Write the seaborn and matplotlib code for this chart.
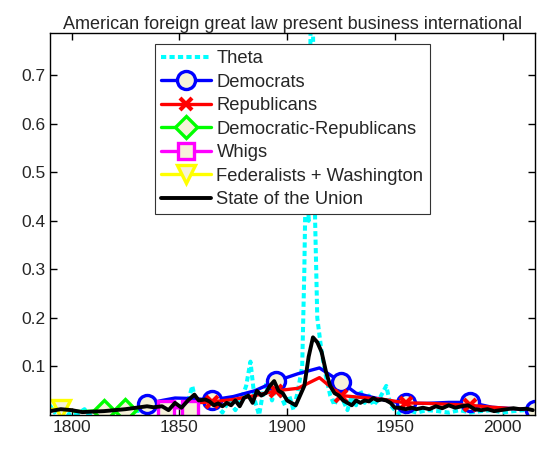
import numpy as np
import pandas as pd
import matplotlib
matplotlib.use("Agg")
import matplotlib.pyplot as plt
import seaborn as sns

# ── Data ──────────────────────────────────────────────────────────────────────

theta_years = [1790, 1792, 1794, 1796, 1798, 1800, 1803, 1806, 1808, 1810, 1813, 1816,
               1820, 1825, 1830, 1835, 1840, 1843, 1846, 1850, 1853, 1856, 1858, 1861,
               1864, 1867, 1870, 1873, 1876, 1879, 1881, 1883, 1885, 1887, 1889, 1891,
               1893, 1895, 1897, 1899, 1901, 1903, 1905, 1907, 1908, 1909, 1910, 1911,
               1912, 1913, 1914, 1916, 1918, 1920, 1922, 1924, 1926, 1928, 1930, 1932,
               1934, 1936, 1938, 1940, 1943, 1946, 1948, 1950, 1953, 1956, 1960, 1965,
               1970, 1975, 1980, 1985, 1990, 1995, 2000, 2005, 2010, 2014]
theta_vals = [0.020, 0.005, 0.015, 0.010, 0.000, 0.005, 0.003, 0.012, 0.000, 0.004, 0.010, 0.000,
              0.005, 0.003, 0.008, 0.010, 0.015, 0.005, 0.020, 0.020, 0.010, 0.060, 0.020, 0.030,
              0.015, 0.020, 0.005, 0.030, 0.010, 0.035, 0.060, 0.110, 0.030, 0.000, 0.050, 0.070,
              0.030, 0.060, 0.040, 0.020, 0.040, 0.010, 0.050, 0.100, 0.300, 0.600, 0.400, 0.850,
              0.800, 0.400, 0.200, 0.130, 0.080, 0.040, 0.020, 0.050, 0.030, 0.010, 0.040, 0.020,
              0.050, 0.025, 0.040, 0.020, 0.035, 0.060, 0.020, 0.010, 0.000, 0.010, 0.005, 0.010,
              0.008, 0.005, 0.010, 0.005, 0.008, 0.010, 0.005, 0.008, 0.010, 0.008]

dem_years = [1835, 1842, 1848, 1856, 1865, 1875, 1885, 1895, 1905, 1915, 1925, 1932,
             1940, 1948, 1955, 1965, 1975, 1985, 1995, 2005, 2015]
dem_vals = [0.023, 0.030, 0.035, 0.034, 0.031, 0.038, 0.050, 0.070, 0.085, 0.097, 0.068, 0.045,
            0.036, 0.028, 0.024, 0.024, 0.026, 0.026, 0.016, 0.013, 0.010]
dem_marks = [0, 4, 7, 10, 14, 17, 20]

rep_years = [1857, 1865, 1875, 1885, 1895, 1905, 1915, 1925, 1935, 1945, 1955, 1965,
             1975, 1985, 1995, 2005, 2010]
rep_vals = [0.025, 0.027, 0.032, 0.040, 0.050, 0.055, 0.077, 0.040, 0.036, 0.032, 0.025, 0.024,
            0.022, 0.020, 0.016, 0.013, 0.012]
rep_marks = [1, 4, 7, 10, 13]

demrep_years = [1801, 1805, 1809, 1815, 1820, 1825, 1829]
demrep_vals = [0.008, 0.007, 0.008, 0.009, 0.010, 0.010, 0.012]
demrep_marks = [3, 5]

whig_years = [1841, 1844, 1849, 1855]
whig_vals = [0.012, 0.012, 0.015, 0.012]
whig_marks = [1, 3]

fed_years = [1790, 1795, 1797, 1800]
fed_vals = [0.012, 0.012, 0.011, 0.010]
fed_marks = [1]

sotu_years = [1790, 1795, 1800, 1805, 1810, 1815, 1820, 1825, 1830, 1835, 1838, 1842,
              1845, 1848, 1851, 1854, 1857, 1859, 1862, 1864, 1866, 1868, 1870, 1872,
              1874, 1876, 1878, 1880, 1882, 1884, 1886, 1888, 1890, 1892, 1894, 1896,
              1898, 1900, 1902, 1904, 1906, 1908, 1910, 1912, 1914, 1916, 1918, 1920,
              1922, 1924, 1926, 1928, 1930, 1932, 1934, 1936, 1938, 1940, 1942, 1944,
              1946, 1948, 1950, 1952, 1955, 1958, 1960, 1963, 1966, 1969, 1972, 1975,
              1978, 1981, 1984, 1987, 1990, 1993, 1996, 1999, 2002, 2005, 2008, 2011, 2014]
sotu_vals = [0.008, 0.012, 0.010, 0.006, 0.007, 0.008, 0.010, 0.012, 0.015, 0.018, 0.016, 0.018,
             0.010, 0.025, 0.015, 0.030, 0.042, 0.030, 0.032, 0.028, 0.020, 0.024, 0.018, 0.025,
             0.020, 0.030, 0.018, 0.035, 0.040, 0.025, 0.050, 0.040, 0.045, 0.060, 0.070, 0.050,
             0.045, 0.030, 0.025, 0.020, 0.040, 0.060, 0.120, 0.160, 0.150, 0.130, 0.090, 0.060,
             0.045, 0.040, 0.030, 0.025, 0.020, 0.030, 0.025, 0.030, 0.028, 0.035, 0.030, 0.032,
             0.030, 0.025, 0.015, 0.015, 0.012, 0.015, 0.012, 0.015, 0.012, 0.018, 0.014, 0.020,
             0.015, 0.018, 0.020, 0.012, 0.010, 0.012, 0.008, 0.010, 0.012, 0.014, 0.012, 0.013, 0.010]

TITLE = "American foreign great law present business international"
X_TICKS = [1800, 1850, 1900, 1950, 2000]
Y_TICKS = [0.1, 0.2, 0.3, 0.4, 0.5, 0.6, 0.7]
FACE = "#f6f2da"

# ── Style ─────────────────────────────────────────────────────────────────────

sns.set_style("ticks", {"xtick.direction": "in", "ytick.direction": "in"})
plt.rcParams["font.family"] = ["Liberation Sans", "DejaVu Sans"]
plt.rcParams["xtick.top"] = True
plt.rcParams["ytick.right"] = True

fig = plt.figure(figsize=(5.4, 4.51), dpi=100)
ax = fig.add_axes([0.0926, 0.0798, 0.8981, 0.847])

sns.lineplot(x=theta_years, y=theta_vals, ax=ax, color="cyan", lw=2.9,
             linestyle=(0, (1.3, 0.8)), label="Theta")

party_kw = dict(lw=2.4, markersize=13, markeredgewidth=2.4, markerfacecolor=FACE)
sns.lineplot(x=dem_years, y=dem_vals, ax=ax, color="blue", marker="o",
             markevery=dem_marks, markeredgecolor="blue", label="Democrats", **party_kw)
sns.lineplot(x=rep_years, y=rep_vals, ax=ax, color="red", marker="x",
             markevery=rep_marks, markeredgecolor="red", label="Republicans",
             **{**party_kw, "markersize": 9, "markeredgewidth": 3})
sns.lineplot(x=demrep_years, y=demrep_vals, ax=ax, color="#00ff00", marker="D",
             markevery=demrep_marks, markeredgecolor="#00ff00",
             label="Democratic-Republicans", **{**party_kw, "markersize": 11})
sns.lineplot(x=whig_years, y=whig_vals, ax=ax, color="magenta", marker="s",
             markevery=whig_marks, markeredgecolor="magenta", label="Whigs",
             **{**party_kw, "markersize": 11})
sns.lineplot(x=fed_years, y=fed_vals, ax=ax, color="yellow", marker="v",
             markevery=fed_marks, markeredgecolor="yellow",
             label="Federalists + Washington", **party_kw)
sns.lineplot(x=sotu_years, y=sotu_vals, ax=ax, color="black", lw=2.8,
             label="State of the Union")

ax.set_xlim(1790, 2015)
ax.set_ylim(0, 0.787)
ax.set_xticks(X_TICKS)
ax.set_yticks(Y_TICKS)
ax.set_yticklabels([f"{v:g}" for v in Y_TICKS])
ax.tick_params(labelsize=12.5, length=5, width=1, color="black")
for s in ax.spines.values():
    s.set_visible(True)
    s.set_color("black")
    s.set_linewidth(1)
ax.set_xlabel("")
ax.set_ylabel("")
ax.set_title(TITLE, fontsize=13, pad=3)

leg = ax.legend(loc="upper center", fontsize=13.2, frameon=True, fancybox=False,
                edgecolor="#333333", framealpha=1, handlelength=2.7, handletextpad=0.3,
                labelspacing=0.35, borderaxespad=0.6, borderpad=0.35)
leg.get_frame().set_linewidth(0.8)

fig.savefig("out.png", dpi=100)
